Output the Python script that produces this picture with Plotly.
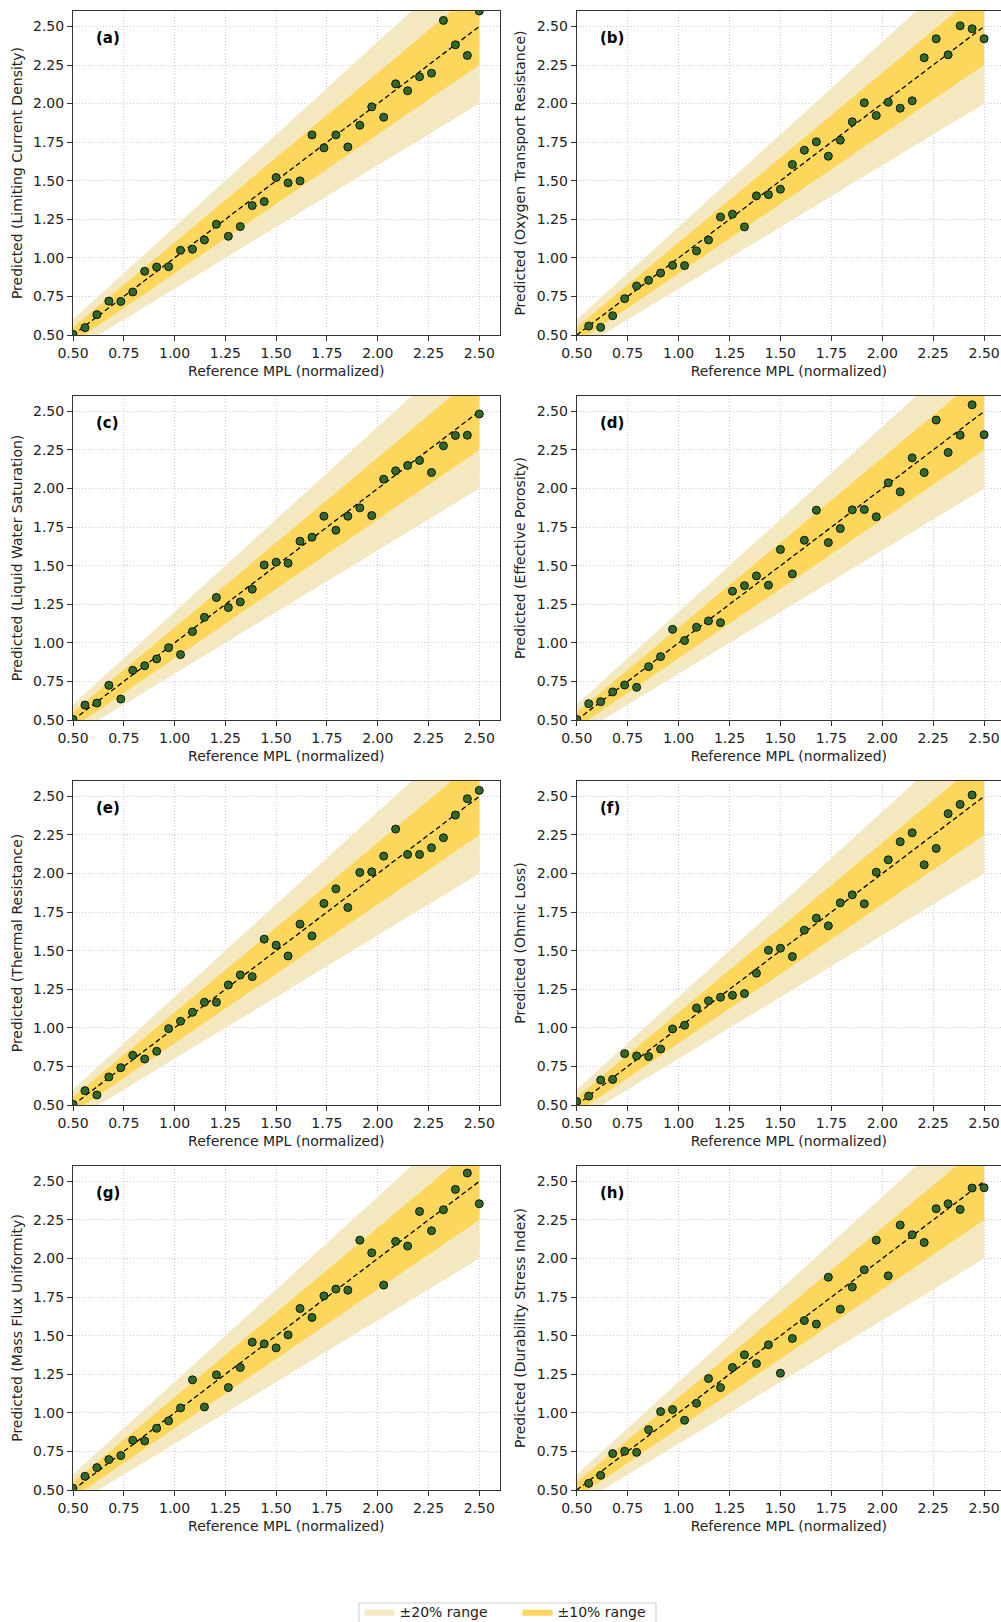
import plotly.graph_objects as go

# ---------------- data ----------------
n_points = 35
ref_start, ref_end = 0.5, 2.5
reference = [round(ref_start + i * (ref_end - ref_start) / (n_points - 1), 4) for i in range(n_points)]

panel_letters = ["(a)", "(b)", "(c)", "(d)", "(e)", "(f)", "(g)", "(h)"]
y_titles = [
    "Predicted (Limiting Current Density)",
    "Predicted (Oxygen Transport Resistance)",
    "Predicted (Liquid Water Saturation)",
    "Predicted (Effective Porosity)",
    "Predicted (Thermal Resistance)",
    "Predicted (Ohmic Loss)",
    "Predicted (Mass Flux Uniformity)",
    "Predicted (Durability Stress Index)",
]
x_title = "Reference MPL (normalized)"

pred_a = [0.504, 0.548, 0.632, 0.720, 0.718, 0.779, 0.913, 0.941, 0.943, 1.049, 1.056, 1.116,
          1.218, 1.140, 1.203, 1.339, 1.365, 1.521, 1.486, 1.499, 1.797, 1.713, 1.797, 1.719,
          1.860, 1.979, 1.912, 2.128, 2.083, 2.174, 2.197, 2.539, 2.381, 2.312, 2.600]
pred_b = [0.460, 0.558, 0.550, 0.625, 0.736, 0.818, 0.855, 0.902, 0.952, 0.950, 1.045, 1.116,
          1.265, 1.283, 1.201, 1.402, 1.410, 1.445, 1.605, 1.698, 1.752, 1.659, 1.763, 1.882,
          2.005, 1.923, 2.009, 1.970, 2.018, 2.297, 2.420, 2.316, 2.504, 2.485, 2.420]
pred_c = [0.504, 0.597, 0.610, 0.725, 0.636, 0.822, 0.852, 0.896, 0.969, 0.924, 1.073, 1.166,
          1.294, 1.229, 1.265, 1.348, 1.505, 1.523, 1.516, 1.659, 1.685, 1.821, 1.730, 1.821,
          1.875, 1.825, 2.061, 2.115, 2.150, 2.182, 2.104, 2.277, 2.344, 2.346, 2.483]
pred_d = [0.504, 0.606, 0.619, 0.682, 0.727, 0.712, 0.846, 0.911, 1.088, 1.015, 1.101, 1.142,
          1.131, 1.335, 1.371, 1.434, 1.374, 1.605, 1.447, 1.665, 1.860, 1.650, 1.741, 1.862,
          1.864, 1.817, 2.037, 1.979, 2.199, 2.104, 2.444, 2.234, 2.346, 2.543, 2.349]
pred_e = [0.504, 0.593, 0.565, 0.682, 0.742, 0.822, 0.798, 0.848, 0.995, 1.043, 1.101, 1.166,
          1.166, 1.278, 1.343, 1.332, 1.575, 1.536, 1.466, 1.672, 1.596, 1.806, 1.901, 1.780,
          2.007, 2.011, 2.113, 2.288, 2.124, 2.124, 2.167, 2.232, 2.379, 2.485, 2.539]
pred_f = [0.522, 0.558, 0.662, 0.666, 0.833, 0.818, 0.814, 0.863, 0.993, 1.017, 1.129, 1.175,
          1.198, 1.211, 1.222, 1.354, 1.503, 1.516, 1.462, 1.633, 1.711, 1.661, 1.810, 1.862,
          1.804, 2.009, 2.089, 2.206, 2.264, 2.057, 2.163, 2.388, 2.448, 2.509, 2.700]
pred_g = [0.511, 0.589, 0.645, 0.697, 0.723, 0.822, 0.818, 0.900, 0.948, 1.032, 1.214, 1.038,
          1.246, 1.164, 1.294, 1.458, 1.447, 1.421, 1.505, 1.676, 1.618, 1.758, 1.802, 1.795,
          2.119, 2.037, 1.828, 2.111, 2.081, 2.305, 2.180, 2.316, 2.448, 2.554, 2.355]
pred_h = [0.460, 0.543, 0.595, 0.736, 0.751, 0.744, 0.891, 1.008, 1.021, 0.952, 1.062, 1.222,
          1.164, 1.294, 1.376, 1.319, 1.441, 1.257, 1.482, 1.598, 1.575, 1.879, 1.672, 1.815,
          1.927, 2.119, 1.888, 2.217, 2.154, 2.104, 2.323, 2.355, 2.318, 2.457, 2.459]
predictions = [pred_a, pred_b, pred_c, pred_d, pred_e, pred_f, pred_g, pred_h]

band_outer = 0.20
band_inner = 0.10
band_labels = ["±20% range", "±10% range"]
tick_vals = [0.5, 0.75, 1.0, 1.25, 1.5, 1.75, 2.0, 2.25, 2.5]
tick_text = ["0.50", "0.75", "1.00", "1.25", "1.50", "1.75", "2.00", "2.25", "2.50"]

# ---------------- style ----------------
FONT = "DejaVu Sans"
C_OUTER = "#F3E8C0"
C_INNER = "#FDD75C"
C_POINT = "#2E6B28"

W, H = 1001, 1622
ML, MR, MT, MB = 73, 0, 11, 132
col_domains = [[0.0, 0.4597], [0.5428, 1.0]]
row_domains = [[0.7809, 1.0], [0.5206, 0.7397], [0.2603, 0.4794], [0.0, 0.2191]]
x_ranges = [[0.5, 2.6], [0.5, 2.583]]
y_range = [0.5, 2.6]

fig = go.Figure()

x_lo, x_hi = min(reference), max(reference)

for k in range(8):
    r, c = divmod(k, 2)
    idx = "" if k == 0 else str(k + 1)
    xa, ya = "x" + idx, "y" + idx

    # bands
    for frac, color, label in [(band_outer, C_OUTER, band_labels[0]),
                               (band_inner, C_INNER, band_labels[1])]:
        bx = [x_lo, x_hi, x_hi, x_lo, x_lo]
        by = [x_lo * (1 + frac), x_hi * (1 + frac), x_hi * (1 - frac), x_lo * (1 - frac), x_lo * (1 + frac)]
        fig.add_trace(go.Scatter(
            x=bx, y=by, fill="toself", fillcolor=color, mode="lines",
            line=dict(width=0, color=color), name=label,
            showlegend=(k == 0), legendgroup=label, hoverinfo="skip",
            xaxis=xa, yaxis=ya))

    # identity line
    fig.add_trace(go.Scatter(
        x=[x_lo, x_hi], y=[x_lo, x_hi], mode="lines",
        line=dict(color="black", width=1.3, dash="5px,3px"),
        showlegend=False, hoverinfo="skip", xaxis=xa, yaxis=ya))

    # points
    fig.add_trace(go.Scatter(
        x=reference, y=predictions[k], mode="markers",
        marker=dict(size=8, color=C_POINT, line=dict(color="#111111", width=1)),
        showlegend=False, cliponaxis=True, xaxis=xa, yaxis=ya))

    axis_common = dict(
        tickvals=tick_vals, ticktext=tick_text, ticks="outside", ticklen=5, tickwidth=1,
        tickcolor="#333333", showline=True, linecolor="#333333", linewidth=1, mirror=True,
        showgrid=True, gridcolor="#cfcfcf", gridwidth=1, griddash="1px,2px",
        zeroline=False, tickfont=dict(family=FONT, size=14, color="#222222"),
    )
    fig.layout["xaxis" + idx] = dict(
        axis_common, domain=col_domains[c], range=x_ranges[c], anchor=ya,
        title=dict(text=x_title, font=dict(family=FONT, size=14, color="#222222"), standoff=6))
    fig.layout["yaxis" + idx] = dict(
        axis_common, domain=row_domains[r], range=y_range, anchor=xa,
        title=dict(text=y_titles[k], font=dict(family=FONT, size=14, color="#222222"), standoff=7))

    fig.add_annotation(
        text="<b>" + panel_letters[k] + "</b>", xref=xa + " domain", yref=ya + " domain",
        x=0.05, y=0.916, xanchor="left", yanchor="middle", showarrow=False,
        font=dict(family=FONT, size=15, color="black"))

# legend frame (drawn as a shape so its position matches the reference)
fig.add_shape(type="rect", xref="paper", yref="paper",
              x0=0.3082, x1=0.6282, y0=-0.0764, y1=-0.10,
              line=dict(color="#cccccc", width=1), fillcolor="white", layer="below")

fig.update_layout(
    width=W, height=H, margin=dict(l=ML, r=MR, t=MT, b=MB, autoexpand=False),
    paper_bgcolor="white", plot_bgcolor="white",
    font=dict(family=FONT, size=14, color="#222222"),
    legend=dict(orientation="h", x=0.479, xanchor="center", y=-0.0717, yanchor="top",
                bgcolor="rgba(0,0,0,0)", borderwidth=0,
                font=dict(family=FONT, size=14, color="#222222"),
                itemwidth=30, entrywidth=113),
)

fig.write_html("out.html", config={"displayModeBar": False},
               post_script="document.body.style.margin='0';document.body.style.overflow='hidden';")
